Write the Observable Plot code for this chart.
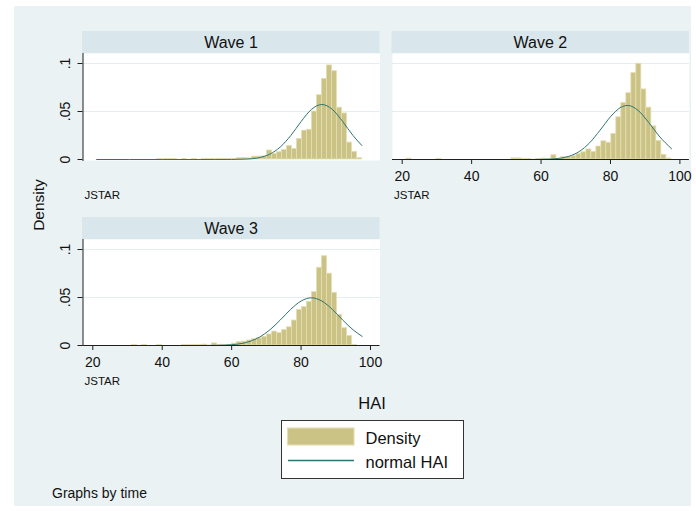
<!DOCTYPE html>
<html>
<head>
<meta charset="utf-8">
<script src="https://cdn.jsdelivr.net/npm/d3@7"></script>
<script src="https://cdn.jsdelivr.net/npm/@observablehq/plot@0.6"></script>
<style>
  html, body { margin: 0; padding: 0; background: #fff; }
  #chart { position: relative; width: 696px; height: 511px; overflow: hidden; }
  #chart > svg { position: absolute; left: 0; top: 0; }
</style>
</head>
<body>
<div id="chart"></div>
<script>
// HAI histograms by survey wave, each with a fitted normal density curve

const waves = ["Wave 1", "Wave 2", "Wave 3"];
const sampleNote = "JSTAR";
const xTitle = "HAI";
const yTitle = "Density";
const byNote = "Graphs by time";
const legendLabels = ["Density", "normal HAI"];

// shared histogram bins
const binStart = 21.21;
const binWidth = 1.44;

// bin densities, one value per bin starting at binStart
const density1 = [
  0, 0, 0, 0, 0, 0, 0, 0, 0, 0, 0, 0,
  0.0006, 0.0006, 0.0006, 0.0006, 0, 0.0005, 0, 0.0005, 0,
  0.0007, 0.0007, 0.0007, 0.0007, 0.0007, 0.0007, 0.0007,
  0.0015, 0.0017, 0.0012, 0.003, 0.003, 0.0032,
  0.0094, 0.006, 0.0076, 0.010, 0.014, 0.011, 0.0215, 0.030, 0.031, 0.050,
  0.067, 0.084, 0.098, 0.092, 0.054, 0.048, 0.0176, 0.008, 0.0014
];
const density2 = [
  0.001, 0, 0, 0, 0, 0, 0.0007,
  0, 0, 0, 0, 0, 0, 0, 0, 0, 0, 0, 0, 0, 0,
  0.0012, 0.0012, 0.0006, 0.0006, 0, 0.0006, 0.001, 0.0004,
  0.0045, 0.001, 0.0026, 0.0028, 0.0035, 0.0056, 0.0076, 0.0105, 0.008, 0.0135,
  0.019, 0.0175, 0.0267, 0.044, 0.059, 0.069, 0.090, 0.0997, 0.073, 0.054,
  0.0345, 0.0193, 0.0049, 0.001
];
const density3 = [
  0, 0, 0, 0, 0, 0, 0,
  0.0005, 0, 0.0005, 0, 0, 0.0005,
  0, 0, 0, 0,
  0.0006, 0.0006, 0.0006, 0.0006,
  0.0009, 0, 0.0022, 0.0008, 0.0007, 0.0007, 0.002, 0.0035, 0.004, 0.0052,
  0.0065, 0.0075, 0.009, 0.0115, 0.0145, 0.013, 0.016, 0.019, 0.026, 0.037,
  0.040, 0.0455, 0.0556, 0.081, 0.093, 0.0748, 0.0549, 0.032, 0.018, 0.010,
  0.0007, 0
];

// normal density curves (HAI value, density)
const curveX1 = [21.1, 40, 55, 60, 64, 68, 71, 74, 77, 80, 83, 86, 89, 92, 95, 97.5];
const curveY1 = [0, 0, 0, 0.00005, 0.0004, 0.002, 0.0056, 0.013, 0.0248, 0.0395, 0.0522, 0.0573, 0.0522, 0.0395, 0.0248, 0.0146];
const curveX2 = [21.1, 40, 55, 60, 64, 68, 71, 74, 77, 80, 83, 85, 88, 91, 94, 97.6];
const curveY2 = [0, 0, 0, 0.0001, 0.00075, 0.0033, 0.0083, 0.0174, 0.0305, 0.0445, 0.0544, 0.0563, 0.051, 0.0386, 0.0245, 0.0112];
const curveX3 = [21.1, 40, 50, 56, 60, 64, 68, 71, 74, 77, 80, 83, 86, 89, 92, 95, 97.6];
const curveY3 = [0, 0, 0, 0.0002, 0.0008, 0.003, 0.0087, 0.0163, 0.0265, 0.0376, 0.0463, 0.0497, 0.0463, 0.0376, 0.0265, 0.0163, 0.0095];

const xTicks = [20, 40, 60, 80, 100];
const yTicks = [0, 0.05, 0.1];

// colours and layout
const W = 696, H = 511;
const font = "'Liberation Sans', Arial, sans-serif";
const colors = {
  page: "#EAF2F3", strip: "#D9E6EC", grid: "#E4EDF0", axis: "#1f1f1f",
  bar: "#CBC386", barEdge: "#E4DEB2", curve: "#2E746F", text: "#111"
};
const colStep = 309.4, rowStep = 186;

const toBins = dens => dens.map((d, i) => ({
  x1: binStart + i * binWidth,
  x2: binStart + (i + 1) * binWidth,
  density: d
}));
const toCurve = (xs, ys) => xs.map((x, i) => ({x, y: ys[i]}));

const panels = [
  {title: waves[0], col: 0, row: 0, bins: toBins(density1), curve: toCurve(curveX1, curveY1)},
  {title: waves[1], col: 1, row: 0, bins: toBins(density2), curve: toCurve(curveX2, curveY2)},
  {title: waves[2], col: 0, row: 1, bins: toBins(density3), curve: toCurve(curveX3, curveY3)}
];
panels.forEach(p => {
  p.dx = p.col * colStep;
  p.dy = p.row * rowStep;
  p.left = p.col === 0 ? 82.5 : 392;
  p.right = 379.5 + p.dx;
  p.top = 53 + p.dy;
  p.hasX = p.col === 1 || p.row === 1;
  p.hasY = p.col === 0;
  p.bottom = (p.hasX ? 159 : 160) + p.dy;
});

const yFmt = d => d === 0 ? "0" : String(d).replace(/^0/, "");

const chart = document.getElementById("chart");

// page background, strip headers and surrounding text
const ann = d3.select(chart).append("svg")
  .attr("width", W).attr("height", H)
  .style("font-family", font);

ann.append("rect").attr("x", 14).attr("y", 6).attr("width", 677).attr("height", 500)
  .attr("fill", colors.page);

for (const p of panels) {
  ann.append("rect")
    .attr("x", p.left - 0.5).attr("y", 31 + p.dy)
    .attr("width", p.right - p.left + 0.5).attr("height", 22)
    .attr("fill", colors.strip);
  ann.append("text")
    .attr("x", (p.left + p.right) / 2).attr("y", 47.7 + p.dy)
    .attr("text-anchor", "middle").attr("font-size", 16).attr("fill", colors.text)
    .text(p.title);
  ann.append("text")
    .attr("x", p.left + 2).attr("y", 199 + p.dy)
    .attr("font-size", 11.5).attr("fill", colors.text)
    .text(sampleNote);
}

ann.append("text")
  .attr("transform", "translate(43.5,205) rotate(-90)")
  .attr("text-anchor", "middle").attr("font-size", 15.5).attr("fill", colors.text)
  .text(yTitle);

ann.append("text")
  .attr("x", 372).attr("y", 409).attr("text-anchor", "middle")
  .attr("font-size", 16.5).attr("fill", colors.text)
  .text(xTitle);

// legend
const lg = ann.append("g");
lg.append("rect").attr("x", 281.5).attr("y", 420.5).attr("width", 182).attr("height", 58)
  .attr("fill", "white").attr("stroke", "#333").attr("stroke-width", 1);
lg.append("rect").attr("x", 287.5).attr("y", 428).attr("width", 66.5).attr("height", 17)
  .attr("fill", colors.bar).attr("stroke", colors.barEdge).attr("stroke-width", 1.2);
lg.append("line").attr("x1", 288).attr("x2", 354).attr("y1", 460.5).attr("y2", 460.5)
  .attr("stroke", colors.curve).attr("stroke-width", 1.6);
lg.append("text").attr("x", 365.5).attr("y", 443.5).attr("font-size", 16.5)
  .attr("fill", colors.text).text(legendLabels[0]);
lg.append("text").attr("x", 365.5).attr("y", 468).attr("font-size", 16.5)
  .attr("fill", colors.text).text(legendLabels[1]);

ann.append("text")
  .attr("x", 52).attr("y", 497.5).attr("font-size", 14).attr("fill", colors.text)
  .text(byNote);

// one Plot per wave, each laid over the shared page
for (const p of panels) {
  const marks = [
    Plot.frame({fill: "white", stroke: "none"}),
    Plot.gridY([0.05, 0.1], {stroke: colors.grid, strokeOpacity: 1, strokeWidth: 1}),
    Plot.rect(p.bins, {
      x1: "x1", x2: "x2", y1: 0, y2: "density",
      fill: colors.bar, stroke: colors.barEdge, strokeWidth: 0.8
    }),
    Plot.line(p.curve, {x: "x", y: "y", stroke: colors.curve, strokeWidth: 1, curve: "monotone-x"})
  ];
  if (p.hasX) {
    marks.push(
      Plot.ruleY([0], {stroke: colors.axis, strokeWidth: 1}),
      Plot.axisX(xTicks, {tickSize: 5, tickPadding: 6.5, fontSize: 14, label: null, stroke: colors.axis})
    );
  }
  if (p.hasY) {
    marks.push(
      Plot.frame({anchor: "left", stroke: colors.axis}),
      Plot.axisY(yTicks, {tickSize: 5, tickFormat: () => "", label: null, stroke: colors.axis}),
      Plot.text(yTicks, {
        y: d => d, frameAnchor: "left", dx: -17.5, rotate: -90,
        text: yFmt, fontSize: 14, fill: colors.text, textAnchor: "middle"
      })
    );
  }
  const svg = Plot.plot({
    width: W, height: H,
    marginLeft: p.left, marginRight: W - p.right,
    marginTop: p.top, marginBottom: H - p.bottom,
    x: {domain: [20, 100], range: [92.3 + p.dx, 370 + p.dx], ...(p.hasX ? {} : {axis: null})},
    y: {domain: [0, 0.1], range: [159 + p.dy, 63 + p.dy], ...(p.hasY ? {} : {axis: null})},
    style: {background: "none", fontFamily: font, color: colors.text, overflow: "visible"},
    marks
  });
  chart.appendChild(svg);
}
</script>
</body>
</html>
